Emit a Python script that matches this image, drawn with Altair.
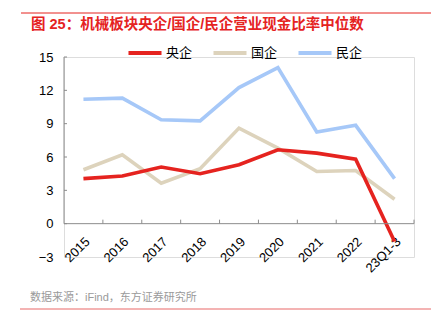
import altair as alt
import pandas as pd

cats = ["2015", "2016", "2017", "2018", "2019", "2020", "2021", "2022", "23Q1-3"]
yangqi = [4.05, 4.29, 5.1, 4.5, 5.3, 6.65, 6.35, 5.8, -1.6]
guoqi = [4.85, 6.2, 3.65, 4.95, 8.6, 6.8, 4.7, 4.78, 2.2]
minqi = [11.2, 11.3, 9.35, 9.25, 12.25, 14.05, 8.25, 8.85, 4.05]
series = ["央企", "国企", "民企"]
colors = ["#E5231F", "#DDD3BC", "#A6C8F8"]
yticks = [-3, 0, 3, 6, 9, 12, 15]
inner_ticks = [0, 3, 6, 9, 12, 15]

rows = []
for name, vals in zip(series, [yangqi, guoqi, minqi]):
    for c, v in zip(cats, vals):
        rows.append({"cat": c, "val": v, "series": name})
df = pd.DataFrame(rows)

FONT = "Liberation Sans, Noto Sans CJK SC"
W, H = 350, 200
AXIS_GRAY = "#8c8c8c"

xscale = alt.Scale(type="band", domain=cats, paddingInner=0, paddingOuter=0)
yscale = alt.Scale(domain=[-3, 15], nice=False, zero=False)

xaxis = alt.Axis(orient="bottom", domain=False, ticks=False, tickSize=0,
                 labelAngle=-45, labelAlign="right", labelBaseline="top",
                 labelPadding=0, offset=-22, labelFontSize=13, labelOverlap=False,
                 labelColor="#000", labelFont=FONT, grid=False)
yaxis = alt.Axis(orient="left", domain=False, ticks=False, values=yticks,
                 labelPadding=11, labelFontSize=13, labelColor="#000",
                 labelOverlap=False, labelFont=FONT, grid=False)

x_bottom = alt.X("cat:N", sort=cats, scale=xscale, title=None, axis=xaxis)
y_left = alt.Y("val:Q", scale=yscale, title=None, axis=yaxis)
color = alt.Color("series:N", scale=alt.Scale(domain=series, range=colors), title=None,
                  legend=alt.Legend(orient="none", legendX=62, legendY=-23,
                                    direction="horizontal", symbolType="stroke",
                                    symbolSize=1090, symbolStrokeWidth=4,
                                    labelFontSize=13, labelFont=FONT, labelColor="#000",
                                    labelOffset=2, columnPadding=12))

base = alt.Chart(df)
layers = []
for name in ["民企", "国企", "央企"]:
    layers.append(base.transform_filter(alt.datum.series == name)
                  .mark_line(strokeWidth=3.6)
                  .encode(x=x_bottom, y=y_left, color=color))

# axis-line helper data
ydom_df = pd.DataFrame({"lo": [0], "hi": [15]})
xdom_df = pd.DataFrame({"z": [0]})
ytick_df = pd.DataFrame({"t": inner_ticks})
xtick_df = pd.DataFrame({"c": cats, "z": [0] * len(cats), "z2": [0.36] * len(cats)})

# y axis line from 0 to 15
ydomain = alt.Chart(ydom_df).mark_rule(color=AXIS_GRAY, strokeWidth=1).encode(
    x=alt.value(0), y=alt.Y("hi:Q", scale=yscale, title=None, axis=yaxis), y2="lo:Q")
# x axis line at zero
xdomain = alt.Chart(xdom_df).mark_rule(color=AXIS_GRAY, strokeWidth=1).encode(
    y=alt.Y("z:Q", scale=yscale, title=None, axis=yaxis), x=alt.value(0), x2=alt.value(W))
# inward y ticks
yticks_mark = alt.Chart(ytick_df).mark_rule(color=AXIS_GRAY, strokeWidth=1).encode(
    y=alt.Y("t:Q", scale=yscale, title=None, axis=yaxis), x=alt.value(0), x2=alt.value(3))
# upward x ticks at band boundaries
xticks_mark = alt.Chart(xtick_df).mark_rule(color=AXIS_GRAY, strokeWidth=1).encode(
    x=alt.X("c:N", sort=cats, scale=xscale, title=None, axis=xaxis, bandPosition=1),
    y=alt.Y("z:Q", scale=yscale, title=None, axis=yaxis), y2="z2:Q")

one = pd.DataFrame({"a": [0]})
top_line = alt.Chart(one).mark_rule(color="#E5231F", strokeWidth=1).encode(
    x=alt.value(-43), x2=alt.value(367), y=alt.value(-44))
bot_line = alt.Chart(one).mark_rule(color="#F09A9A", strokeWidth=1.5).encode(
    x=alt.value(-44), x2=alt.value(367), y=alt.value(252))
title = alt.Chart(one).mark_text(
    align="left", baseline="middle", fontSize=14.5, font=FONT, fontWeight="bold",
    color="#E5231F").encode(
    x=alt.value(-33), y=alt.value(-32),
    text=alt.value("图 25：机械板块央企/国企/民企营业现金比率中位数"))
source = alt.Chart(one).mark_text(
    align="left", baseline="middle", fontSize=11, font=FONT, color="#9a9a9a").encode(
    x=alt.value(-34), y=alt.value(241), text=alt.value("数据来源：iFind，东方证券研究所"))

chart = alt.layer(*layers, ydomain, xdomain, yticks_mark, xticks_mark,
                  top_line, bot_line, title, source).properties(
    width=W, height=H,
    autosize=alt.AutoSizeParams(type="none"),
    padding={"left": 64, "top": 57, "right": 17, "bottom": 73},
).configure_view(stroke="transparent", strokeWidth=0).configure(background="white")

chart.save("out.html", embed_options={"renderer": "svg", "actions": False})
